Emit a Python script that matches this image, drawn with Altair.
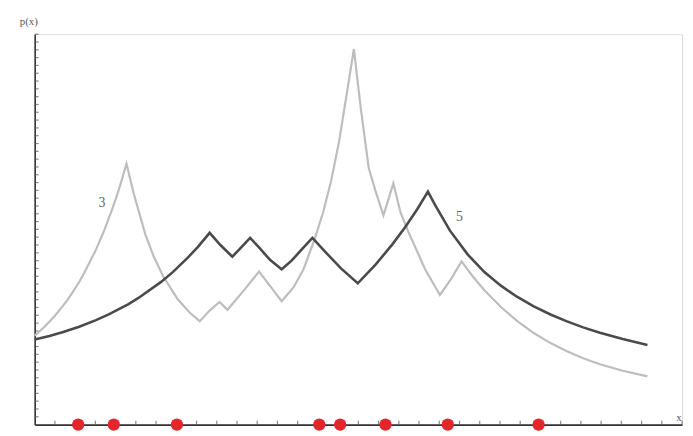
import altair as alt
import pandas as pd

# Curve "3" (light)
x3 = [0, 0.49, 0.98, 1.37, 1.71, 2.20, 2.44, 3.03, 3.42, 3.81,
      4.06, 4.25, 4.54, 4.89, 5.47, 5.86, 6.35, 7.08, 7.67, 8.16,
      8.65, 9.14, 9.53, 10.31, 11.09, 11.68, 12.21, 12.80, 13.29, 13.83,
      14.26, 14.66, 15.05, 15.39, 15.78, 16.12, 16.51, 16.85, 17.24, 17.73,
      18.08, 18.47, 19.30, 20.03, 20.57, 21.10, 21.64, 22.23, 23.06, 23.84,
      24.67, 25.50, 26.28, 27.11, 27.94, 29.07, 30.29]
y3 = [0.1139, 0.1253, 0.1387, 0.1510, 0.1630, 0.1826, 0.1938, 0.2241, 0.2476, 0.2743,
      0.2928, 0.3086, 0.3342, 0.2962, 0.2437, 0.2167, 0.1899, 0.1601, 0.1433, 0.1325,
      0.146, 0.157, 0.147, 0.171, 0.196, 0.176, 0.158, 0.176, 0.199, 0.237,
      0.272, 0.313, 0.363, 0.418, 0.481, 0.405, 0.329, 0.299, 0.268, 0.309,
      0.272, 0.247, 0.199, 0.166, 0.186, 0.209, 0.1903, 0.1722, 0.1503, 0.1329,
      0.1173, 0.1044, 0.0942, 0.0849, 0.0772, 0.0689, 0.0617]

# Curve "5" (dark)
x5 = [0, 0.73, 1.37, 2.20, 3.03, 3.66, 4.64, 5.13, 6.25, 6.84,
      7.57, 8.06, 8.65, 9.18, 9.77, 10.21, 10.65, 11.09, 11.63, 12.21,
      12.70, 13.19, 13.73, 14.41, 15.14, 15.97, 16.85, 17.68, 18.32, 18.91,
      19.44, 19.79, 20.52, 21.40, 22.23, 23.06, 23.84, 24.67, 25.50, 26.28,
      27.11, 27.94, 29.07, 30.29]
y5 = [0.109, 0.1135, 0.1184, 0.1254, 0.1338, 0.1411, 0.1544, 0.1622, 0.1828, 0.1956,
      0.2139, 0.2273, 0.2456, 0.230, 0.215, 0.227, 0.239, 0.227, 0.211, 0.199,
      0.210, 0.224, 0.239, 0.220, 0.200, 0.181, 0.2049, 0.2308, 0.253, 0.2758,
      0.2985, 0.2815, 0.2487, 0.218, 0.1954, 0.1776, 0.1638, 0.1515, 0.141, 0.1325,
      0.1245, 0.1177, 0.1095, 0.1019]

# Sample points on the x axis
pts_x = [2.15, 3.91, 7.03, 14.07, 15.10, 17.34, 20.42, 24.91]

# Curve labels
lab_text = ["3", "5"]
lab_x = [3.32, 21.0]
lab_y = [0.284, 0.266]

# Axis tick positions
x_ticks = list(range(1, 33))
y_ticks = [i / 100 for i in range(1, 51)]

d3 = pd.DataFrame({"x": x3, "y": y3, "i": range(len(x3))})
d5 = pd.DataFrame({"x": x5, "y": y5, "i": range(len(x5))})
dp = pd.DataFrame({"x": pts_x, "y": [0] * len(pts_x)})
dl = pd.DataFrame({"x": lab_x, "y": lab_y, "t": lab_text})
dxt = pd.DataFrame({"x": x_ticks, "y": [0] * len(x_ticks)})
dyt = pd.DataFrame({"x": [0] * len(y_ticks), "y": y_ticks})

xs = alt.Scale(domain=[0, 32], nice=False, zero=False)
ys = alt.Scale(domain=[0, 0.5], nice=False, zero=False)

xax = alt.Axis(labels=False, ticks=False, grid=False, title=None,
               domainColor="#333", domainWidth=1.6)
yax = alt.Axis(labels=False, ticks=False, grid=False, title=None,
               domainColor="#333", domainWidth=1.6)

light = alt.Chart(d3).mark_line(color="#bdbdbd", strokeWidth=2.2).encode(
    x=alt.X("x:Q", scale=xs, axis=xax),
    y=alt.Y("y:Q", scale=ys, axis=yax),
    order="i:Q",
)
dark = alt.Chart(d5).mark_line(color="#4a4a4a", strokeWidth=2.6).encode(
    x=alt.X("x:Q", scale=xs, axis=xax),
    y=alt.Y("y:Q", scale=ys, axis=yax),
    order="i:Q",
)
xticks = alt.Chart(dxt).mark_tick(orient="vertical", size=4, thickness=1.2,
                                  color="#555", yOffset=-2).encode(
    x=alt.X("x:Q", scale=xs, axis=xax),
    y=alt.Y("y:Q", scale=ys, axis=yax),
)
yticks = alt.Chart(dyt).mark_tick(orient="horizontal", size=4, thickness=1.2,
                                  color="#555", xOffset=2).encode(
    x=alt.X("x:Q", scale=xs, axis=xax),
    y=alt.Y("y:Q", scale=ys, axis=yax),
)
dots = alt.Chart(dp).mark_circle(color="#e3262b", opacity=1, size=155).encode(
    x=alt.X("x:Q", scale=xs, axis=xax),
    y=alt.Y("y:Q", scale=ys, axis=yax),
)
labels = alt.Chart(dl).mark_text(font="Liberation Serif", fontSize=14, color="#666").encode(
    x=alt.X("x:Q", scale=xs, axis=xax),
    y=alt.Y("y:Q", scale=ys, axis=yax),
    text="t:N",
)
px_label = alt.Chart(pd.DataFrame({"x": [-0.29], "y": [0.516], "t": ["p(x)"]})).mark_text(
    font="Liberation Serif", fontSize=11, color="#555"
).encode(x=alt.X("x:Q", scale=xs, axis=xax), y=alt.Y("y:Q", scale=ys, axis=yax), text="t:N")
x_label = alt.Chart(pd.DataFrame({"x": [31.72], "y": [0.008], "t": ["x"]})).mark_text(
    font="Liberation Serif", fontSize=11, color="#555", align="left"
).encode(x=alt.X("x:Q", scale=xs, axis=xax), y=alt.Y("y:Q", scale=ys, axis=yax), text="t:N")

chart = alt.layer(xticks, yticks, light, dark, dots, labels, px_label, x_label).properties(
    width=655,
    height=395,
    autosize=alt.AutoSizeParams(type="none"),
    padding={"left": 27, "top": 24, "right": 3, "bottom": 7},
).configure_view(stroke=None).configure(background="white")

chart.save("out.html", embed_options={"renderer": "svg", "actions": False})
